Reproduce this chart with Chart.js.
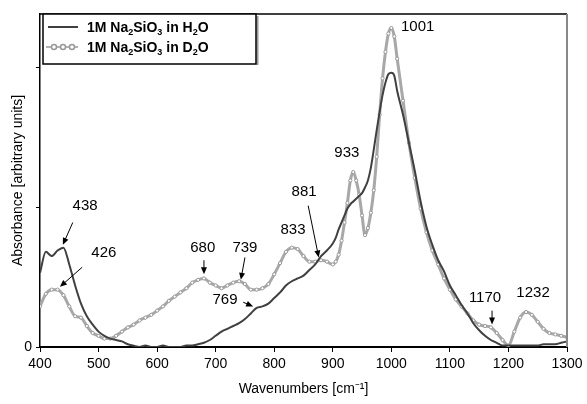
<!DOCTYPE html>
<html>
<head>
<meta charset="utf-8">
<script src="https://cdn.jsdelivr.net/npm/chart.js@4.4.0/dist/chart.umd.min.js"></script>
<style>
html, body { margin: 0; padding: 0; background: #fff; }
</style>
</head>
<body>
<canvas id="graficaEspectro" width="587" height="404"></canvas>
<script>
// wavenumbers (cm-1), finer steps around the main bands
const wavenumbers = [400,410,420,430,440,450,460,470,480,490,500,510,520,530,540,550,560,570,580,590,600,610,620,630,640,650,660,670,680,690,700,710,720,730,740,750,760,770,780,790,800,810,820,830,840,850,860,870,880,890,900,
  905,910,915,920,925,930,935,940,945,950,955,960,965,970,975,980,985,990,995,1000,1005,1010,
  1020,1030,1040,1050,1060,1070,1080,1090,1100,1110,1120,1130,1140,1150,1160,1170,1180,1190,1200,1210,1220,1230,1240,1250,1260,1270,1280,1290,1300];

const absH2O = [0.53,0.68,0.65,0.69,0.71,0.59,0.44,0.31,0.22,0.16,0.11,0.08,0.06,0.05,0.04,0.02,0.01,0.00,0.01,0.00,0.00,0.01,0.00,0.00,0.00,0.01,0.01,0.02,0.03,0.05,0.08,0.11,0.13,0.15,0.17,0.20,0.24,0.28,0.29,0.31,0.35,0.39,0.44,0.47,0.49,0.51,0.55,0.59,0.65,0.69,0.74,
  0.78,0.84,0.89,0.94,0.99,1.02,1.04,1.06,1.08,1.10,1.14,1.19,1.28,1.41,1.55,1.68,1.80,1.89,1.95,1.96,1.94,1.83,
  1.66,1.46,1.26,1.04,0.86,0.73,0.62,0.54,0.44,0.37,0.30,0.24,0.17,0.12,0.08,0.05,0.03,0.01,0.01,0.01,0.01,0.01,0.01,0.01,0.02,0.02,0.02,0.03,0.04];

const absD2O = [0.29,0.38,0.41,0.41,0.37,0.29,0.22,0.21,0.15,0.10,0.08,0.06,0.06,0.08,0.11,0.14,0.16,0.19,0.21,0.23,0.26,0.29,0.33,0.36,0.39,0.42,0.46,0.48,0.49,0.46,0.44,0.42,0.44,0.46,0.47,0.45,0.41,0.41,0.42,0.45,0.52,0.60,0.68,0.71,0.70,0.65,0.61,0.61,0.62,0.61,0.59,
  0.61,0.66,0.76,0.89,1.03,1.19,1.25,1.19,1.09,0.94,0.80,0.85,0.96,1.12,1.36,1.66,1.92,2.11,2.24,2.28,2.22,2.06,
  1.76,1.46,1.21,0.99,0.82,0.69,0.59,0.49,0.41,0.34,0.29,0.24,0.19,0.16,0.15,0.14,0.10,0.05,0.01,0.11,0.21,0.25,0.23,0.18,0.13,0.10,0.09,0.08,0.07];

const xTicks = [400,500,600,700,800,900,1000,1100,1200,1300];
const yTicks = [0,1,2];

// peak labels: text, label position, optional arrow from/to (wavenumber, absorbance)
const peakLabels = [
  { text: '438', at: [477, 1.01], arrow: [[456, 0.89], [439, 0.73]] },
  { text: '426', at: [509, 0.67], arrow: [[472, 0.57], [434, 0.43]] },
  { text: '680', at: [678, 0.71], arrow: [[680, 0.62], [680, 0.52]] },
  { text: '739', at: [750, 0.71], arrow: [[750, 0.64], [743, 0.48]] },
  { text: '769', at: [716, 0.34], arrow: [[747, 0.32], [764, 0.29]] },
  { text: '833', at: [832, 0.84] },
  { text: '881', at: [851, 1.11], arrow: [[858, 1.01], [876, 0.64]] },
  { text: '933', at: [924, 1.39] },
  { text: '1001', at: [1045, 2.29] },
  { text: '1170', at: [1160, 0.35], arrow: [[1172, 0.26], [1172, 0.16]] },
  { text: '1232', at: [1242, 0.39] }
];

const fuente = '"Liberation Sans", Arial, Helvetica, sans-serif';

const etiquetasPlugin = {
  id: 'etiquetas',
  afterDraw(chart) {
    const ctx = chart.ctx;
    const xs = chart.scales.x, ys = chart.scales.y;
    const area = chart.chartArea;
    ctx.save();

    // frame: top black, right grey
    ctx.strokeStyle = '#000';
    ctx.lineWidth = 1.5;
    ctx.beginPath();
    ctx.moveTo(area.left, area.top);
    ctx.lineTo(area.right, area.top);
    ctx.stroke();
    ctx.strokeStyle = '#888';
    ctx.lineWidth = 2;
    ctx.beginPath();
    ctx.moveTo(area.right, area.top);
    ctx.lineTo(area.right, area.bottom);
    ctx.stroke();

    // peak labels and arrows
    ctx.fillStyle = '#000';
    ctx.font = '15px ' + fuente;
    ctx.textAlign = 'center';
    ctx.textBaseline = 'middle';
    peakLabels.forEach(function(p) {
      ctx.fillText(p.text, xs.getPixelForValue(p.at[0]), ys.getPixelForValue(p.at[1]));
      if (p.arrow) {
        const x1 = xs.getPixelForValue(p.arrow[0][0]), y1 = ys.getPixelForValue(p.arrow[0][1]);
        const x2 = xs.getPixelForValue(p.arrow[1][0]), y2 = ys.getPixelForValue(p.arrow[1][1]);
        const ang = Math.atan2(y2 - y1, x2 - x1);
        ctx.strokeStyle = '#000';
        ctx.lineWidth = 1;
        ctx.beginPath();
        ctx.moveTo(x1, y1);
        ctx.lineTo(x2 - 4 * Math.cos(ang), y2 - 4 * Math.sin(ang));
        ctx.stroke();
        ctx.beginPath();
        ctx.moveTo(x2, y2);
        ctx.lineTo(x2 - 7 * Math.cos(ang) + 3 * Math.sin(ang), y2 - 7 * Math.sin(ang) - 3 * Math.cos(ang));
        ctx.lineTo(x2 - 7 * Math.cos(ang) - 3 * Math.sin(ang), y2 - 7 * Math.sin(ang) + 3 * Math.cos(ang));
        ctx.closePath();
        ctx.fill();
      }
    });

    // legend box
    const lx = 43, ly = 14, lw = 213, lh = 50;
    ctx.fillStyle = '#fff';
    ctx.fillRect(lx, ly, lw, lh);
    ctx.strokeStyle = '#999';
    ctx.lineWidth = 2;
    ctx.beginPath();
    ctx.moveTo(lx + lw + 1.5, ly + 2);
    ctx.lineTo(lx + lw + 1.5, ly + lh + 1);
    ctx.stroke();
    ctx.strokeStyle = '#000';
    ctx.lineWidth = 1.5;
    ctx.strokeRect(lx, ly, lw, lh);

    // legend samples
    ctx.strokeStyle = '#404040';
    ctx.lineWidth = 2;
    ctx.beginPath();
    ctx.moveTo(48, 27);
    ctx.lineTo(78, 27);
    ctx.stroke();
    ctx.strokeStyle = '#999';
    ctx.lineWidth = 1.5;
    ctx.beginPath();
    ctx.moveTo(46, 47);
    ctx.lineTo(78, 47);
    ctx.stroke();
    [54, 63, 72].forEach(function(cx) {
      ctx.beginPath();
      ctx.arc(cx, 47, 2.5, 0, Math.PI * 2);
      ctx.fillStyle = '#fff';
      ctx.fill();
      ctx.stroke();
    });

    // legend text with subscripts
    function texto(partes, x, y) {
      ctx.textAlign = 'left';
      ctx.textBaseline = 'alphabetic';
      ctx.fillStyle = '#000';
      partes.forEach(function(pt) {
        if (pt[1]) {
          ctx.font = 'bold 9px ' + fuente;
          ctx.fillText(pt[0], x, y + 3);
        } else {
          ctx.font = 'bold 14px ' + fuente;
          ctx.fillText(pt[0], x, y);
        }
        x += ctx.measureText(pt[0]).width;
      });
    }
    texto([['1M Na', 0], ['2', 1], ['SiO', 0], ['3', 1], [' in H', 0], ['2', 1], ['O', 0]], 87, 32);
    texto([['1M Na', 0], ['2', 1], ['SiO', 0], ['3', 1], [' in D', 0], ['2', 1], ['O', 0]], 87, 52);

    ctx.restore();
  }
};

const ctx = document.getElementById('graficaEspectro').getContext('2d');

new Chart(ctx, {
  type: 'line',
  data: {
    labels: wavenumbers,
    datasets: [{
      label: '1M Na2SiO3 in H2O',
      data: wavenumbers.map((w, i) => ({ x: w, y: absH2O[i] })),
      borderColor: '#404040',
      borderWidth: 2,
      pointRadius: 0,
      cubicInterpolationMode: 'monotone',
      fill: false
    }, {
      label: '1M Na2SiO3 in D2O',
      data: wavenumbers.map((w, i) => ({ x: w, y: absD2O[i] })),
      borderColor: '#a8a8a8',
      borderWidth: 3,
      pointRadius: 1.6,
      pointBorderWidth: 1,
      pointBackgroundColor: '#fff',
      pointBorderColor: '#999',
      cubicInterpolationMode: 'monotone',
      fill: false
    }]
  },
  options: {
    responsive: false,
    animation: false,
    layout: { padding: { top: 14, right: 20, left: 0, bottom: 0 } },
    plugins: {
      legend: { display: false },
      tooltip: { enabled: false }
    },
    scales: {
      x: {
        type: 'linear',
        min: 400,
        max: 1300,
        afterBuildTicks: function(scale) { scale.ticks = xTicks.map(v => ({ value: v })); },
        afterFit: function(scale) { scale.height = 57; },
        ticks: {
          color: '#000',
          font: { family: fuente, size: 14 },
          padding: 4,
          maxRotation: 0,
          callback: function(v) { return String(v); }
        },
        grid: { drawOnChartArea: false, tickLength: 5, color: '#000' },
        border: { color: '#000', width: 2 },
        title: {
          display: true,
          text: 'Wavenumbers [cm\u207B\u00B9]',
          color: '#000',
          font: { family: fuente, size: 14 },
          padding: { top: 0, bottom: 6 }
        }
      },
      y: {
        min: 0,
        max: 2.38,
        afterBuildTicks: function(scale) { scale.ticks = yTicks.map(v => ({ value: v })); },
        afterFit: function(scale) { scale.width = 40; },
        ticks: {
          color: '#000',
          font: { family: fuente, size: 14 },
          padding: 4,
          callback: function(v) { return v === 0 ? '0' : ''; }
        },
        grid: { drawOnChartArea: false, tickLength: 4, color: '#000' },
        border: { color: '#000', width: 1.5 },
        title: {
          display: true,
          text: 'Absorbance [arbitrary units]',
          color: '#000',
          font: { family: fuente, size: 14 },
          padding: { top: 10, bottom: 0 }
        }
      }
    }
  },
  plugins: [etiquetasPlugin]
});
</script>
</body>
</html>
